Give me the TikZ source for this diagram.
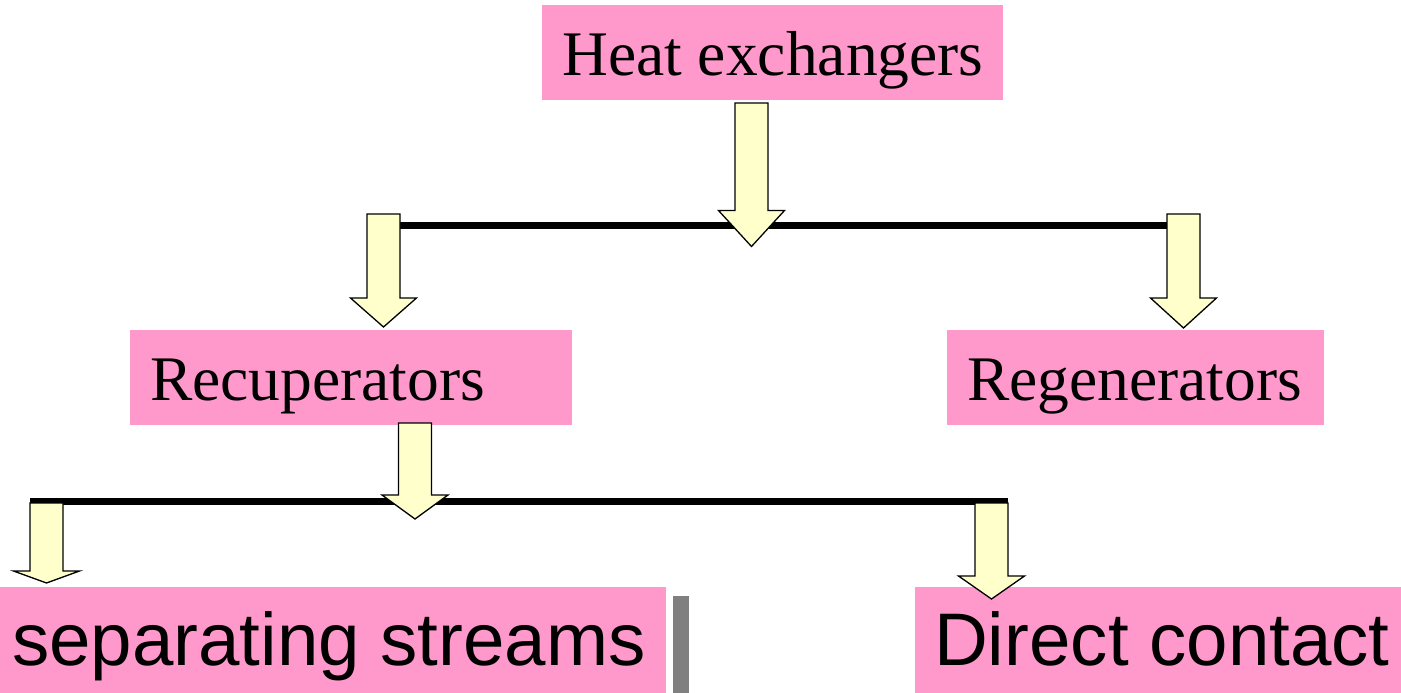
\documentclass[tikz,border=0pt]{standalone}
\usepackage{fontspec}
\setmainfont{Liberation Serif}
\newfontfamily\labelsans{Liberation Sans}
\usetikzlibrary{calc}

\definecolor{boxpink}{HTML}{FF99CC}
\definecolor{arrowfill}{HTML}{FFFFCC}
\definecolor{dividergray}{HTML}{808080}

% Block arrow pointing down: #1 = top centre, #2 = depth of the shoulders, #3 = depth of the tip
\newcommand\blockarrow[3]{%
  \draw[blockarrow] ($(#1)+(-16.5,0)$) -- ($(#1)+(16.5,0)$) -- ($(#1)+(16.5,#2)$)
    -- ($(#1)+(33,#2)$) -- ($(#1)+(0,#3)$) -- ($(#1)+(-33,#2)$)
    -- ($(#1)+(-16.5,#2)$) -- cycle;}

\tikzset{
  boxpad/.style={execute at begin node={\hspace*{#1}}},
  catbox/.style={fill=boxpink, inner sep=0pt, anchor=north west, align=flush left},
  serifbox/.style={catbox, text height=70pt, text depth=25pt,
    font=\fontsize{63.5}{70}\selectfont, boxpad=20pt},
  sansbox/.style={catbox, text height=78pt, text depth=28pt,
    font=\labelsans\fontsize{74.5}{80}\selectfont},
  blockarrow/.style={fill=arrowfill, draw=black, line width=1.3pt, line join=miter},
  branchbar/.style={line width=7pt, line cap=butt, draw=black},
}

\begin{document}
\begin{tikzpicture}[x=1pt, y=-1pt]
  \useasboundingbox (0,0) rectangle (1401,693);

  % category boxes
  \node[serifbox, text width=461pt] (heat) at (542,5) {Heat exchangers};
  \node[serifbox, text width=442pt] (recup) at (130,330) {Recuperators};
  \node[serifbox, text width=377pt] (regen) at (947,330) {Regenerators};
  \node[sansbox, text width=666pt, boxpad=12pt] (sep) at (0,587) {separating streams};
  \node[sansbox, text width=486pt, boxpad=19pt] (direct) at (915,587) {Direct contact};

  % grey divider next to the lower left box
  \node[fill=dividergray, inner sep=0pt, minimum width=16.5pt, minimum height=97pt,
        anchor=north west] (divider) at (672.5,596) {};

  % arrow anchors (top centre of each arrow)
  \coordinate (a1) at (751.5,103);
  \coordinate (a2) at (383.5,214);
  \coordinate (a3) at (1183.5,214);
  \coordinate (a4) at (415,423);
  \coordinate (a5) at (46.5,503);
  \coordinate (a6) at (991.5,503);

  % branch bars
  \coordinate (bar1w) at (383.5,225);
  \coordinate (bar1e) at (1183.5,225);
  \coordinate (bar2w) at (30,501.5);
  \coordinate (bar2e) at (1008,501.5);
  \draw[branchbar] (bar1w) -- (bar1e);
  \draw[branchbar] (bar2w) -- (bar2e);

  % arrows
  \blockarrow{a1}{107.5}{143.5}
  \blockarrow{a2}{84}{113}
  \blockarrow{a3}{84}{114}
  \blockarrow{a4}{72}{96}
  \blockarrow{a5}{68}{80}
  \blockarrow{a6}{73}{96}
\end{tikzpicture}
\end{document}
